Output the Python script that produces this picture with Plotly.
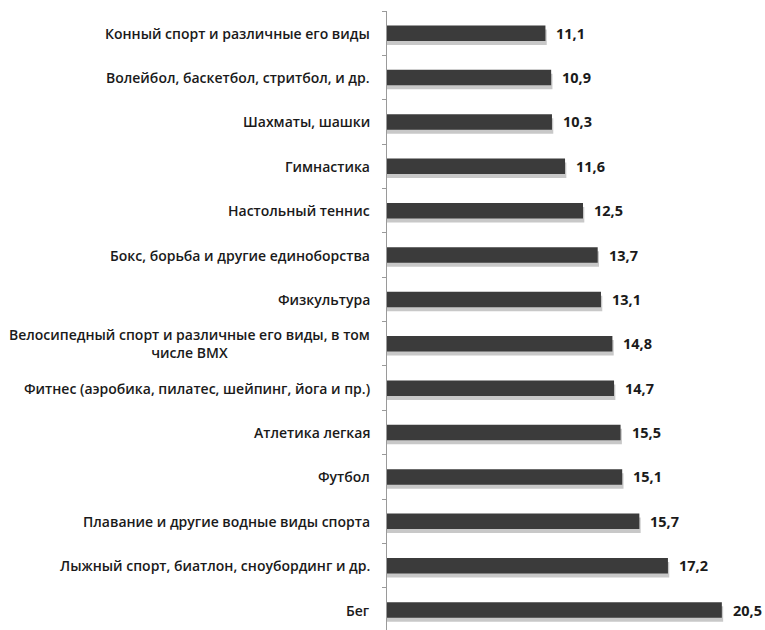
import plotly.graph_objects as go

categories = [
    "Конный спорт и различные его виды",
    "Волейбол, баскетбол, стритбол, и др.",
    "Шахматы, шашки",
    "Гимнастика",
    "Настольный теннис",
    "Бокс, борьба и другие единоборства",
    "Физкультура",
    "Велосипедный спорт и различные его виды, в том<br>числе BMX",
    "Фитнес (аэробика, пилатес, шейпинг, йога и пр.)",
    "Атлетика легкая",
    "Футбол",
    "Плавание и другие водные виды спорта",
    "Лыжный спорт, биатлон, сноубординг и др.",
    "Бег",
]
# bar lengths as drawn in the picture
bar_lengths = [9.7, 10.05, 10.1, 10.9, 12.0, 12.9, 13.1, 13.8, 13.9, 14.3, 14.4, 15.45, 17.2, 20.5]
# value labels as printed
value_labels = ["11,1", "10,9", "10,3", "11,6", "12,5", "13,7", "13,1",
                "14,8", "14,7", "15,5", "15,1", "15,7", "17,2", "20,5"]

FONT = "Open Sans"
BAR_W = 0.35

fig = go.Figure()
# soft shadow layer
fig.add_trace(go.Bar(
    y=categories, x=[v + 0.08 for v in bar_lengths], orientation="h",
    width=BAR_W, offset=-BAR_W / 2 + 0.09,
    marker=dict(color="#c8c8c8", line=dict(width=0)),
    hoverinfo="skip", showlegend=False,
))
fig.add_trace(go.Bar(
    y=categories, x=bar_lengths, orientation="h",
    width=BAR_W, offset=-BAR_W / 2,
    marker=dict(color="#3b3b3b", line=dict(width=0)),
    showlegend=False,
))

for cat, v, lab in zip(categories, bar_lengths, value_labels):
    fig.add_annotation(
        x=v, y=cat, xref="x", yref="y", text=f"<b>{lab}</b>",
        xanchor="left", yanchor="middle", xshift=9, showarrow=False,
        font=dict(family=FONT, size=14.5, color="#1a1a1a"),
    )
    fig.add_annotation(
        x=0, y=cat, xref="paper", yref="y", text=cat,
        xanchor="right", yanchor="middle", xshift=-15, showarrow=False,
        align="center",
        font=dict(family=FONT, size=14, color="#1a1a1a", weight=600),
    )

fig.update_layout(
    width=765, height=630,
    margin=dict(l=387, r=2, t=11, b=0),
    paper_bgcolor="white", plot_bgcolor="white",
    barmode="overlay",
    xaxis=dict(visible=False, range=[0, 23.02], fixedrange=True),
    yaxis=dict(
        categoryorder="array", categoryarray=categories,
        range=[13.45, -0.5],
        showline=True, linecolor="#9a9a9a", linewidth=1,
        ticks="outside", tickson="boundaries", ticklen=4, tickcolor="#9a9a9a",
        showticklabels=False, showgrid=False, zeroline=False,
    ),
)

fig.write_html("out.html")
